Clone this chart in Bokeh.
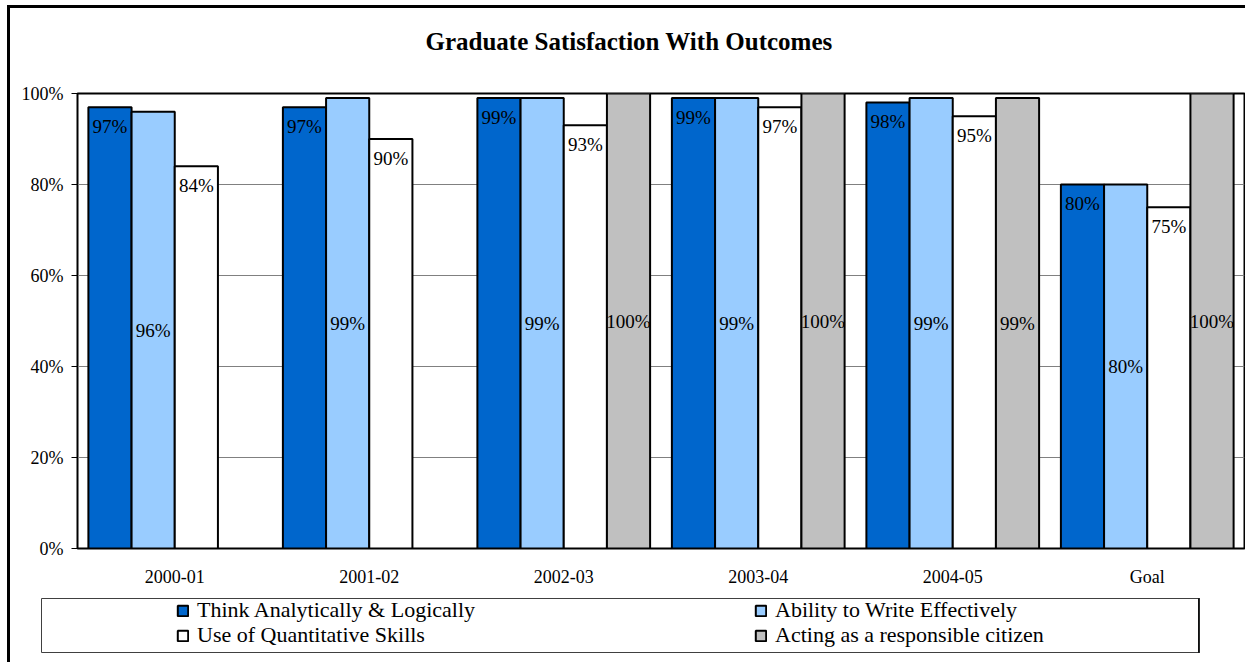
from bokeh.plotting import figure
from bokeh.models import (ColumnDataSource, FactorRange, FixedTicker, PrintfTickFormatter,
                          Legend, LegendItem, Range1d, Title)
from bokeh.transform import dodge
from bokeh.core.properties import value
from bokeh.embed import file_html
from bokeh.resources import INLINE

# ---- data ----
years = ["2000-01", "2001-02", "2002-03", "2003-04", "2004-05", "Goal"]
series_names = ["Think Analytically & Logically", "Ability to Write Effectively",
                "Use of Quantitative Skills", "Acting as a responsible citizen"]
think = [97, 97, 99, 99, 98, 80]
write = [96, 99, 99, 99, 99, 80]
quant = [84, 90, 93, 97, 95, 75]
citizen = [None, None, 100, 100, 99, 100]
colors = ["#0066CC", "#99CCFF", "#FFFFFF", "#C0C0C0"]
yticks = [0, 20, 40, 60, 80, 100]
title_text = "Graduate Satisfaction With Outcomes"

SERIF = "Liberation Serif"

p = figure(x_range=FactorRange(*years, range_padding=0), y_range=(0, 100),
           width=1238, height=582, output_backend="svg", toolbar_location=None,
           min_border_left=67, min_border_right=4, min_border_top=85, min_border_bottom=42,
           styles={"border-left": "3px solid black", "border-top": "3px solid black",
                   "margin-left": "7px", "margin-top": "5px"})
p.x_range.range_padding = 0
p.background_fill_color = "white"
p.border_fill_color = "white"
p.outline_line_color = "black"
p.outline_line_width = 2

all_series = [think, write, quant, citizen]
offsets = [-0.333, -0.111, 0.111, 0.333]
bw = 0.222
for i, vals in enumerate(all_series):
    xs = [y for y, v in zip(years, vals) if v is not None]
    vs = [v for v in vals if v is not None]
    src = ColumnDataSource(dict(x=xs, top=vs, mid=[v / 2 for v in vs],
                                lab=["%d%%" % v for v in vs]))
    p.vbar(x=dodge("x", offsets[i], range=p.x_range), top="top", width=bw, source=src,
           fill_color=colors[i], line_color="black", line_width=2)
    if i in (0, 2):
        p.text(x=dodge("x", offsets[i], range=p.x_range), y="top", text="lab", source=src,
               y_offset=19, text_align="center", text_baseline="middle",
               text_font=value(SERIF), text_font_size="19px", text_color="black")
    else:
        p.text(x=dodge("x", offsets[i], range=p.x_range), y="mid", text="lab", source=src,
               text_align="center", text_baseline="middle",
               text_font=value(SERIF), text_font_size="19px", text_color="black")

# axes
p.yaxis.ticker = FixedTicker(ticks=yticks)
p.yaxis.formatter = PrintfTickFormatter(format="%d%%")
p.yaxis.major_tick_out = 6
p.yaxis.major_tick_in = 0
p.yaxis.minor_tick_line_color = None
p.yaxis.major_label_standoff = 8
p.yaxis.axis_line_color = "black"
p.yaxis.major_tick_line_color = "black"
p.xaxis.major_tick_out = 0
p.xaxis.major_tick_in = 0
p.xaxis.major_tick_line_color = None
p.xaxis.axis_line_color = "black"
p.xaxis.major_label_standoff = 18
for ax in (p.xaxis, p.yaxis):
    ax.major_label_text_font = SERIF
    ax.major_label_text_font_size = "18px"
    ax.major_label_text_color = "black"
p.xgrid.grid_line_color = None
p.ygrid.grid_line_color = "#808080"
p.ygrid.grid_line_width = 1

# title (a blank spacer title sits between the frame and the real title)
p.add_layout(Title(text=" ", text_font=SERIF, text_font_size="20px", standoff=10), "above")
p.add_layout(Title(text=title_text, align="left", offset=348, standoff=10,
                   text_font=SERIF, text_font_size="25px", text_font_style="bold",
                   text_color="black"), "above")

# ---- legend panel ----
p2 = figure(x_range=Range1d(0, 1), y_range=Range1d(0, 1), width=1238, height=75,
            output_backend="svg", toolbar_location=None,
            x_axis_location=None, y_axis_location=None,
            min_border_left=31, min_border_right=49, min_border_top=11, min_border_bottom=10,
            styles={"border-left": "3px solid black", "margin-left": "7px"})
p2.grid.visible = False
p2.outline_line_color = "#404040"
p2.outline_line_width = 1
p2.background_fill_color = "white"
p2.border_fill_color = "white"

# legend swatches (their bars lie outside the visible range; only the legend shows them)
dummies = []
for i in range(4):
    dummies.append(p2.vbar(x=[5], top=[1], width=0.1, fill_color=colors[i],
                           line_color="black", line_width=2))


def make_legend(idx, loc):
    return Legend(items=[LegendItem(label=series_names[k], renderers=[dummies[k]]) for k in idx],
                  location=loc, orientation="horizontal",
                  glyph_width=13, glyph_height=13, label_standoff=8, label_width=557,
                  label_height=18, spacing=0, padding=0, margin=0,
                  label_text_font=SERIF, label_text_font_size="22px",
                  label_text_color="black",
                  border_line_color=None, background_fill_alpha=0)


p2.add_layout(make_legend([0, 1], (135, 29)), "center")
p2.add_layout(make_legend([2, 3], (135, 4)), "center")

open("out.html", "w").write(file_html([p, p2], INLINE))
